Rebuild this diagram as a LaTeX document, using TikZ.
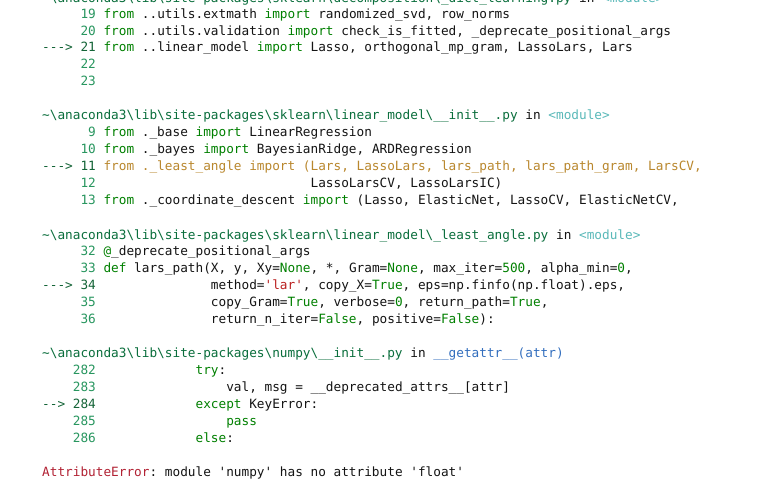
\documentclass[tikz,border=0pt]{standalone}
\usepackage{fontspec}
\setmonofont{DejaVu Sans Mono}
\definecolor{kwc}{RGB}{0,128,0}
\definecolor{numc}{RGB}{40,150,95}
\definecolor{arrc}{RGB}{20,100,55}
\definecolor{hdrc}{RGB}{10,110,60}
\definecolor{modc}{RGB}{90,185,185}
\definecolor{hic}{RGB}{185,135,45}
\definecolor{strc}{RGB}{186,33,33}
\definecolor{errc}{RGB}{178,34,52}
\definecolor{bluc}{RGB}{50,110,190}
\definecolor{txtc}{RGB}{20,20,20}
\newcommand\SPC[1]{\hspace*{#1\dimexpr 7.67pt\relax}}
\newcommand\kw[1]{\textcolor{kwc}{#1}}
\newcommand\nm[1]{\textcolor{numc}{#1}}
\newcommand\arr[1]{\textcolor{arrc}{#1}}
\newcommand\hd[1]{\textcolor{hdrc}{#1}}
\newcommand\BS{\textbackslash}
\tikzset{codeline/.style={anchor=base west,inner sep=0pt,text=txtc,font=\ttfamily\fontsize{12.74}{17}\selectfont}}
\begin{document}
\begin{tikzpicture}[x=1pt,y=-1pt]
\useasboundingbox[fill=white] (0,0) rectangle (764,486);
\node[codeline] (t0) at (42,3) {\hd{\textasciitilde\BS anaconda3\BS lib\BS site-packages\BS sklearn\BS decomposition\BS\_dict\_learning.py} in \textcolor{modc}{<module>}};
\node[codeline] (a19) at (42,19) {\SPC{5}\nm{19} \kw{from} ..utils.extmath \kw{import} randomized\_svd, row\_norms};
\node[codeline] (a20) at (42,36) {\SPC{5}\nm{20} \kw{from} ..utils.validation \kw{import} check\_is\_fitted, \_deprecate\_positional\_args};
\node[codeline] (a21) at (42,52) {\arr{-{}-{}-> 21} \kw{from} ..linear\_model \kw{import} Lasso, orthogonal\_mp\_gram, LassoLars, Lars};
\node[codeline] (a22) at (42,69) {\SPC{5}\nm{22}};
\node[codeline] (a23) at (42,86) {\SPC{5}\nm{23}};
\node[codeline] (h2) at (42,120) {\hd{\textasciitilde\BS anaconda3\BS lib\BS site-packages\BS sklearn\BS linear\_model\BS\_\_init\_\_.py} in \textcolor{modc}{<module>}};
\node[codeline] (b9) at (42,137) {\SPC{6}\nm{9} \kw{from} .\_base \kw{import} LinearRegression};
\node[codeline] (b10) at (42,154) {\SPC{5}\nm{10} \kw{from} .\_bayes \kw{import} BayesianRidge, ARDRegression};
\node[codeline] (b11) at (42,171) {\arr{-{}-{}-> 11} \textcolor{hic}{from .\_least\_angle import (Lars, LassoLars, lars\_path, lars\_path\_gram, LarsCV,}};
\node[codeline] (b12) at (42,188) {\SPC{5}\nm{12}\SPC{28}LassoLarsCV, LassoLarsIC)};
\node[codeline] (b13) at (42,205) {\SPC{5}\nm{13} \kw{from} .\_coordinate\_descent \kw{import} (Lasso, ElasticNet, LassoCV, ElasticNetCV,};
\node[codeline] (h3) at (42,240) {\hd{\textasciitilde\BS anaconda3\BS lib\BS site-packages\BS sklearn\BS linear\_model\BS\_least\_angle.py} in \textcolor{modc}{<module>}};
\node[codeline] (c32) at (42,256) {\SPC{5}\nm{32} \kw{@}\_deprecate\_positional\_args};
\node[codeline] (c33) at (42,273) {\SPC{5}\nm{33} \kw{def} lars\_path(X, y, Xy=\kw{None}, *, Gram=\kw{None}, max\_iter=\kw{500}, alpha\_min=\kw{0},};
\node[codeline] (c34) at (42,290) {\arr{-{}-{}-> 34}\SPC{15}method=\textcolor{strc}{'lar'}, copy\_X=\kw{True}, eps=np.finfo(np.float).eps,};
\node[codeline] (c35) at (42,307) {\SPC{5}\nm{35}\SPC{15}copy\_Gram=\kw{True}, verbose=\kw{0}, return\_path=\kw{True},};
\node[codeline] (c36) at (42,324) {\SPC{5}\nm{36}\SPC{15}return\_n\_iter=\kw{False}, positive=\kw{False}):};
\node[codeline] (h4) at (42,358) {\hd{\textasciitilde\BS anaconda3\BS lib\BS site-packages\BS numpy\BS\_\_init\_\_.py} in \textcolor{bluc}{\_\_getattr\_\_(attr)}};
\node[codeline] (d282) at (42,375) {\SPC{4}\nm{282}\SPC{13}\kw{try}:};
\node[codeline] (d283) at (42,392) {\SPC{4}\nm{283}\SPC{17}val, msg = \_\_deprecated\_attrs\_\_[attr]};
\node[codeline] (d284) at (42,409) {\arr{-{}-> 284}\SPC{13}\kw{except} KeyError:};
\node[codeline] (d285) at (42,426) {\SPC{4}\nm{285}\SPC{17}\kw{pass}};
\node[codeline] (d286) at (42,443) {\SPC{4}\nm{286}\SPC{13}\kw{else}:};
\node[codeline] (err) at (42,477) {\textcolor{errc}{AttributeError}: module 'numpy' has no attribute 'float'};
\end{tikzpicture}
\end{document}
